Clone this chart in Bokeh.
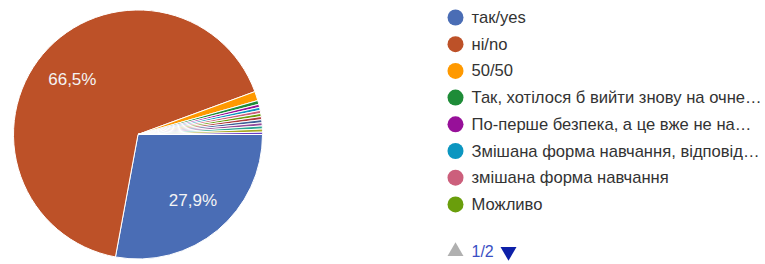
import numpy as np
from bokeh.plotting import figure
from bokeh.models import Range1d, ColumnDataSource
from bokeh.core.properties import value
from bokeh.embed import file_html
from bokeh.resources import INLINE

# ---- data ----
categories = [
    "так/yes", "ні/no", "50/50",
    "Так, хотілося б вийти знову на очне…",
    "По-перше безпека, а це вже не на…",
    "Змішана форма навчання, відповід…",
    "змішана форма навчання",
    "Можливо",
    "Інше 1", "Інше 2", "Інше 3", "Інше 4", "Інше 5", "Інше 6",
]
shares = [27.9, 66.5, 1.2, 0.5, 0.4, 0.4, 0.4, 0.4, 0.4, 0.4, 0.4, 0.4, 0.4, 0.3]
colors = ["#4a6db5", "#bd5128", "#ff9900", "#1e8c38", "#971099", "#0c96c0",
          "#cc5f7c", "#6a9e0c", "#b03a3a", "#3f5f98", "#944a9c", "#2aa593",
          "#a8a820", "#6a3cc4"]
legend_shown = 8
page_label = "1/2"

W, H = 765, 264
p = figure(width=W, height=H, output_backend="svg", toolbar_location=None,
           x_range=Range1d(0, W), y_range=Range1d(0, H),
           x_axis_location=None, y_axis_location=None, min_border=0,
           outline_line_color=None, background_fill_color="white")
p.grid.visible = False

cx, cy, R = 137.5, H - 134.0, 124.5
frac = np.array(shares) / np.sum(shares)
cum = np.concatenate([[0], np.cumsum(frac)[:-1]])
start = -cum * 2 * np.pi
end = -(cum + frac) * 2 * np.pi
src = ColumnDataSource(dict(start=start, end=end, color=colors[:len(shares)]))
p.wedge(x=cx, y=cy, radius=R, start_angle="start", end_angle="end",
        direction="clock", fill_color="color", line_color="white",
        line_width=1, source=src)

# percentage labels
mid = -(cum + frac / 2) * 2 * np.pi
big = frac >= 0.05
lx = cx + 0.69 * R * np.cos(mid[big])
ly = cy + 0.69 * R * np.sin(mid[big])
labs = [f"{s:.1f}%".replace(".", ",") for s, b in zip(shares, big) if b]
p.text(x=lx, y=ly, text=labs, text_align="center", text_baseline="middle",
       text_color="#f4f4f4", text_font=value("Liberation Sans"),
       text_font_size="17px")

# legend
n = legend_shown
ys = H - (17 + np.arange(n) * 26.7)
p.scatter(x=[455] * n, y=ys, size=16, marker="circle",
          fill_color=colors[:n], line_color=None)
p.text(x=[471] * n, y=ys, text=categories[:n], text_baseline="middle",
       text_color="#333333", text_font=value("Liberation Sans"),
       text_font_size="16.6px")

# pager
py = H - 251
p.scatter(x=[455], y=[py], marker="triangle", size=16,
          fill_color="#b0b0b0", line_color=None)
p.text(x=[471], y=[py], text=[page_label], text_baseline="middle",
       text_color="#3a4fc4", text_font=value("Liberation Sans"),
       text_font_size="16px")
p.scatter(x=[508], y=[py], marker="inverted_triangle", size=16,
          fill_color="#0d20a8", line_color=None)

open("out.html", "w").write(file_html(p, INLINE))
